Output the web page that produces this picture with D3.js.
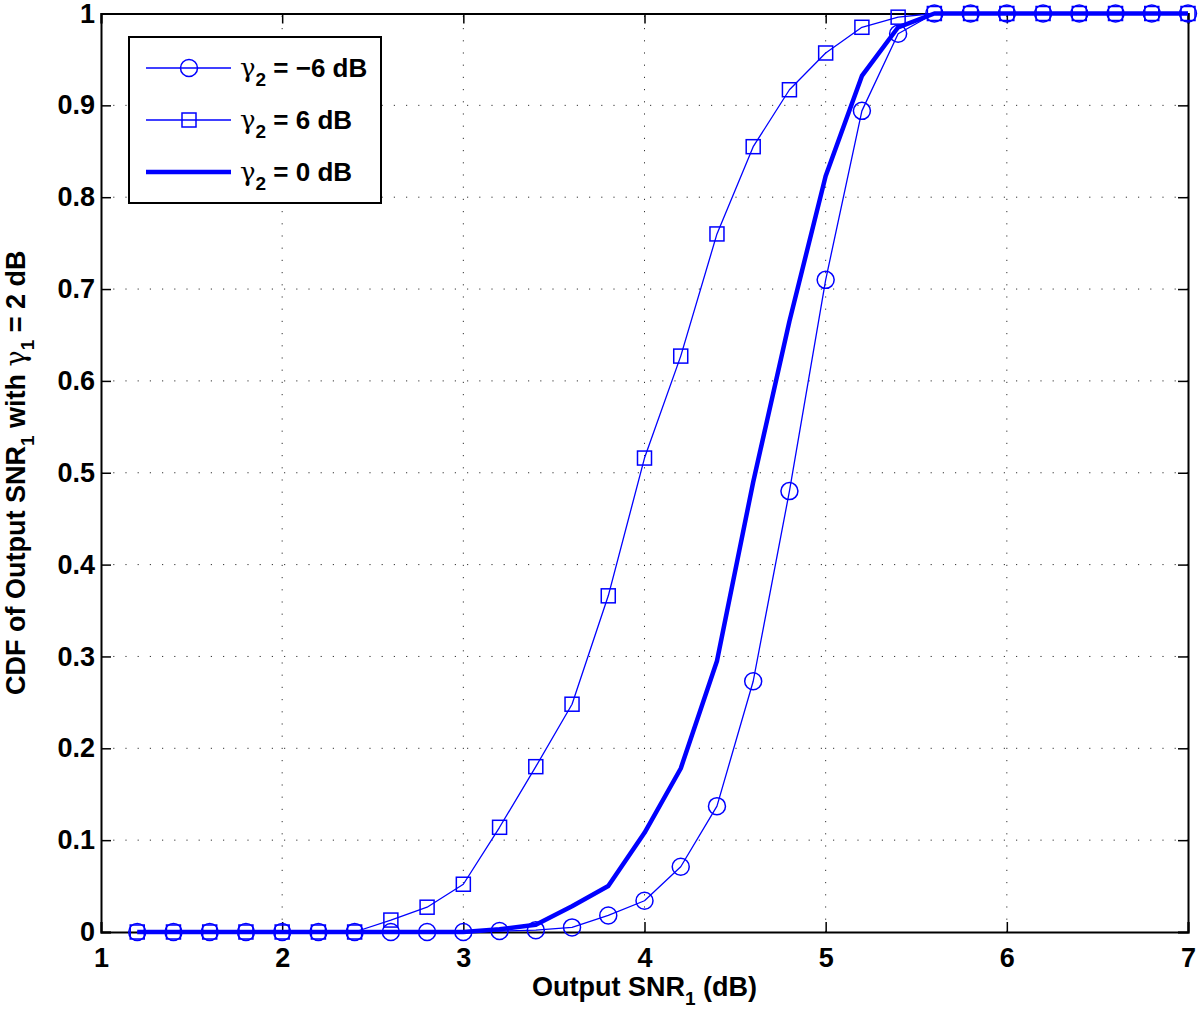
<!DOCTYPE html>
<html>
<head>
<meta charset="utf-8">
<script src="https://cdn.jsdelivr.net/npm/d3@7"></script>
<style>
  body { margin: 0; background: #fff; }
  svg { display: block; font-family: "Liberation Sans", Arial, Helvetica, sans-serif; }
</style>
</head>
<body>
<div id="chart"></div>
<script>
// x positions (dB) shared by all series
const snr = [1.2, 1.4, 1.6, 1.8, 2.0, 2.2, 2.4, 2.6, 2.8, 3.0, 3.2, 3.4, 3.6, 3.8, 4.0,
             4.2, 4.4, 4.6, 4.8, 5.0, 5.2, 5.4, 5.6, 5.8, 6.0, 6.2, 6.4, 6.6, 6.8, 7.0];

const cdfMinus6 = [0, 0, 0, 0, 0, 0, 0, 0, 0, 0, 0.001, 0.002, 0.005, 0.018, 0.034,
                   0.071, 0.137, 0.273, 0.48, 0.71, 0.894, 0.978, 1, 1, 1, 1, 1, 1, 1, 1];
const cdfPlus6 = [0, 0, 0, 0, 0, 0, 0, 0.013, 0.027, 0.052, 0.114, 0.18, 0.248, 0.366, 0.516,
                  0.627, 0.76, 0.855, 0.917, 0.957, 0.985, 0.996, 1, 1, 1, 1, 1, 1, 1, 1];
const cdfZero = [0, 0, 0, 0, 0, 0, 0, 0, 0, 0, 0.003, 0.008, 0.028, 0.05, 0.108,
                 0.178, 0.295, 0.49, 0.665, 0.823, 0.932, 0.985, 1, 1, 1, 1, 1, 1, 1, 1];

const xTicks = [1, 2, 3, 4, 5, 6, 7];
const yTicks = [0, 0.1, 0.2, 0.3, 0.4, 0.5, 0.6, 0.7, 0.8, 0.9, 1];

const series = [
  { label: "= \u22126 dB", values: cdfMinus6, marker: "circle", width: 1.3 },
  { label: "= 6 dB", values: cdfPlus6, marker: "square", width: 1.3 },
  { label: "= 0 dB", values: cdfZero, marker: null, width: 4.5 }
];

const W = 1200, H = 1019;
const m = { left: 101, right: 12, top: 13.5, bottom: 87 };
const blue = "#0000ff";
const font = "'Liberation Sans', Arial, sans-serif";

const svg = d3.select("#chart").append("svg").attr("width", W).attr("height", H);

const x = d3.scaleLinear().domain([1, 7]).range([m.left, W - m.right]);
const y = d3.scaleLinear().domain([0, 1]).range([H - m.bottom, m.top]);

// grid
const grid = svg.append("g");
grid.selectAll("line.gx").data(xTicks.slice(1, -1)).enter().append("line")
  .attr("x1", d => x(d)).attr("x2", d => x(d))
  .attr("y1", y(0)).attr("y2", y(1))
  .attr("stroke", "#333").attr("stroke-width", 1).attr("stroke-dasharray", "1.2,11");
grid.selectAll("line.gy").data(yTicks.slice(1, -1)).enter().append("line")
  .attr("y1", d => y(d)).attr("y2", d => y(d))
  .attr("x1", x(1)).attr("x2", x(7))
  .attr("stroke", "#333").attr("stroke-width", 1).attr("stroke-dasharray", "1.2,11");

// axes with inward ticks on all four sides
const tickFmt = d => d === 0 || d === 1 ? d3.format("d")(d) : d3.format(".1f")(d);
const axB = svg.append("g").attr("transform", `translate(0,${y(0)})`)
  .call(d3.axisBottom(x).tickValues(xTicks).tickSize(-10).tickPadding(16).tickFormat(d3.format("d")));
const axT = svg.append("g").attr("transform", `translate(0,${y(1)})`)
  .call(d3.axisTop(x).tickValues(xTicks).tickSize(-10).tickFormat(""));
const axL = svg.append("g").attr("transform", `translate(${x(1)},0)`)
  .call(d3.axisLeft(y).tickValues(yTicks).tickSize(-10).tickPadding(6).tickFormat(tickFmt));
const axR = svg.append("g").attr("transform", `translate(${x(7)},0)`)
  .call(d3.axisRight(y).tickValues(yTicks).tickSize(-10).tickFormat(""));

[axB, axT, axL, axR].forEach(a => {
  a.select(".domain").attr("stroke", "#000").attr("stroke-width", 2);
  a.selectAll(".tick line").attr("stroke", "#000").attr("stroke-width", 1.5);
  a.selectAll("text").attr("fill", "#000").attr("font-size", 27).attr("font-weight", "bold")
    .attr("font-family", font);
});
axB.selectAll("text").attr("dy", "0.71em");

// series
const line = d3.line().x((d, i) => x(snr[i])).y(d => y(d));
series.forEach(s => {
  const g = svg.append("g");
  g.append("path").datum(s.values).attr("d", line)
    .attr("fill", "none").attr("stroke", blue).attr("stroke-width", s.width)
    .attr("stroke-linejoin", "round");
  if (s.marker === "circle") {
    g.selectAll("circle").data(s.values).enter().append("circle")
      .attr("cx", (d, i) => x(snr[i])).attr("cy", d => y(d)).attr("r", 8.5)
      .attr("fill", "none").attr("stroke", blue).attr("stroke-width", 1.5);
  } else if (s.marker === "square") {
    g.selectAll("rect").data(s.values).enter().append("rect")
      .attr("x", (d, i) => x(snr[i]) - 7).attr("y", d => y(d) - 7)
      .attr("width", 14).attr("height", 14)
      .attr("fill", "none").attr("stroke", blue).attr("stroke-width", 1.5);
  }
});

// legend
const lg = svg.append("g");
lg.append("rect").attr("x", 129).attr("y", 37).attr("width", 252).attr("height", 166)
  .attr("fill", "#fff").attr("stroke", "#000").attr("stroke-width", 2);
series.forEach((s, i) => {
  const yy = 68 + i * 52;
  lg.append("line").attr("x1", 146).attr("x2", 231).attr("y1", yy).attr("y2", yy)
    .attr("stroke", blue).attr("stroke-width", s.width);
  if (s.marker === "circle") {
    lg.append("circle").attr("cx", 189).attr("cy", yy).attr("r", 8.5)
      .attr("fill", "none").attr("stroke", blue).attr("stroke-width", 1.5);
  } else if (s.marker === "square") {
    lg.append("rect").attr("x", 182).attr("y", yy - 7).attr("width", 14).attr("height", 14)
      .attr("fill", "none").attr("stroke", blue).attr("stroke-width", 1.5);
  }
  const t = lg.append("text").attr("x", 240).attr("y", yy + 9)
    .attr("font-size", 26).attr("font-weight", "bold").attr("font-family", font);
  t.append("tspan").attr("font-family", "'DejaVu Serif', serif").attr("font-weight", "normal").text("\u03b3");
  t.append("tspan").attr("font-size", 19).attr("dy", 9).text("2");
  t.append("tspan").attr("dy", -9).text(" " + s.label);
});

// axis labels
const xl = svg.append("text").attr("x", x(4)).attr("y", 996)
  .attr("text-anchor", "middle").attr("font-size", 27).attr("font-weight", "bold").attr("font-family", font);
xl.append("tspan").text("Output SNR");
xl.append("tspan").attr("font-size", 19).attr("dy", 9).text("1");
xl.append("tspan").attr("dy", -9).text(" (dB)");

const yl = svg.append("text").attr("transform", `translate(25,${y(0.5)}) rotate(-90)`)
  .attr("text-anchor", "middle").attr("font-size", 27).attr("font-weight", "bold").attr("font-family", font);
yl.append("tspan").text("CDF of Output SNR");
yl.append("tspan").attr("font-size", 19).attr("dy", 9).text("1");
yl.append("tspan").attr("dy", -9).text(" with ");
yl.append("tspan").attr("font-family", "'DejaVu Serif', serif").attr("font-weight", "normal").text("\u03b3");
yl.append("tspan").attr("font-size", 19).attr("dy", 9).text("1");
yl.append("tspan").attr("dy", -9).text(" = 2 dB");
</script>
</body>
</html>
